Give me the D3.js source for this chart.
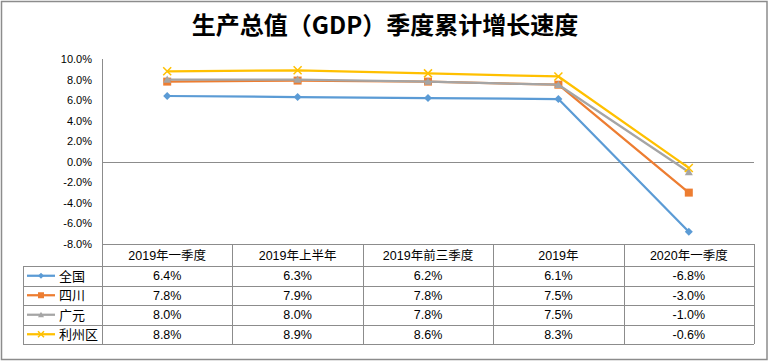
<!DOCTYPE html>
<html>
<head>
<meta charset="utf-8">
<script src="https://cdn.jsdelivr.net/npm/d3@7"></script>
<style>
  body { margin: 0; background: #fff; }
  text { font-family: "Liberation Sans", "Noto Sans CJK SC", sans-serif; fill: #000; }
</style>
</head>
<body>
<div class="chart"></div>
<script>
// categories and series (percent)
const categories = ["2019年一季度", "2019年上半年", "2019年前三季度", "2019年", "2020年一季度"];
const seriesNames = ["全国", "四川", "广元", "利州区"];
const quanguo = [6.4, 6.3, 6.2, 6.1, -6.8];
const sichuan = [7.8, 7.9, 7.8, 7.5, -3.0];
const guangyuan = [8.0, 8.0, 7.8, 7.5, -1.0];
const lizhou = [8.8, 8.9, 8.6, 8.3, -0.6];
const yTicks = [10, 8, 6, 4, 2, 0, -2, -4, -6, -8];

const colors = ["#5B9BD5", "#ED7D31", "#A5A5A5", "#FFC000"];
const markers = ["diamond", "square", "triangle", "x"];
const series = [quanguo, sichuan, guangyuan, lizhou].map((v, i) => ({
  name: seriesNames[i], values: v, color: colors[i], marker: markers[i]
}));

// plain hyphen minus like the original
const pct = d3.formatLocale({decimal: ".", thousands: ",", grouping: [3], currency: ["", ""], minus: "-"})
  .format(".1f");
const fmt = d => pct(d) + "%";

const W = 769, H = 361;
const plot = {left: 102, right: 754, top: 59, bottom: 244};
const headerH = 22, rowH = 19.5, legendLeft = 23;
const gridColor = "#8c8c8c";

const svg = d3.select(".chart").append("svg")
  .attr("width", W).attr("height", H);

// outer border
svg.append("rect")
  .attr("x", 1.5).attr("y", 1.5).attr("width", W - 3.5).attr("height", H - 3)
  .attr("fill", "#fff").attr("stroke", gridColor).attr("stroke-width", 1.5);

// title
svg.append("text")
  .attr("x", 385).attr("y", 34)
  .attr("text-anchor", "middle")
  .style("font-family", "'Noto Sans CJK SC', sans-serif")
  .style("font-size", "24px").style("font-weight", "bold")
  .text("生产总值（GDP）季度累计增长速度");

const x = d3.scaleBand().domain(categories).range([plot.left, plot.right]);
const y = d3.scaleLinear().domain([-8, 10]).range([plot.bottom, plot.top]);

// y axis labels
svg.append("g").selectAll("text")
  .data(yTicks).enter().append("text")
  .attr("x", 92).attr("y", d => y(d) + 4)
  .attr("text-anchor", "end")
  .style("font-size", "11px")
  .text(d => (d < 0 ? "-" : "") + pct(Math.abs(d)) + "%");

// y axis line and zero line
svg.append("line")
  .attr("x1", plot.left + 0.5).attr("x2", plot.left + 0.5)
  .attr("y1", plot.top).attr("y2", plot.bottom)
  .attr("stroke", gridColor);
svg.append("line")
  .attr("x1", plot.left).attr("x2", plot.right)
  .attr("y1", Math.round(y(0)) + 0.5).attr("y2", Math.round(y(0)) + 0.5)
  .attr("stroke", gridColor);

// marker drawing
function drawMarker(g, type, color, s) {
  if (type === "diamond") {
    g.append("path").attr("d", `M0,${-s}L${s},0L0,${s}L${-s},0Z`).attr("fill", color);
  } else if (type === "square") {
    g.append("rect").attr("x", -s).attr("y", -s).attr("width", 2 * s).attr("height", 2 * s)
      .attr("fill", color);
  } else if (type === "triangle") {
    g.append("path").attr("d", `M0,${-s}L${s},${s * 0.8}L${-s},${s * 0.8}Z`).attr("fill", color);
  } else {
    g.append("path").attr("d", `M${-s},${-s}L${s},${s}M${s},${-s}L${-s},${s}`)
      .attr("stroke", color).attr("stroke-width", 1.5);
  }
}

const line = d3.line()
  .x((d, i) => x(categories[i]) + x.bandwidth() / 2)
  .y(d => y(d));

series.forEach(s => {
  const g = svg.append("g");
  g.append("path")
    .attr("d", line(s.values))
    .attr("fill", "none")
    .attr("stroke", s.color)
    .attr("stroke-width", 2.25)
    .attr("stroke-linejoin", "round");
  s.values.forEach((v, i) => {
    const m = g.append("g")
      .attr("transform", `translate(${x(categories[i]) + x.bandwidth() / 2},${y(v)})`);
    drawMarker(m, s.marker, s.color, 4);
  });
});

// data table
const tbl = svg.append("g");
const tableTop = plot.bottom;
const tableBottom = tableTop + headerH + rowH * series.length;
const rowY = i => tableTop + headerH + rowH * i;

// horizontal lines
tbl.append("line")
  .attr("x1", plot.left).attr("x2", plot.right)
  .attr("y1", tableTop + 0.5).attr("y2", tableTop + 0.5)
  .attr("stroke", gridColor);
d3.range(series.length + 1).forEach(i => {
  tbl.append("line")
    .attr("x1", legendLeft).attr("x2", plot.right)
    .attr("y1", Math.round(rowY(i)) + 0.5).attr("y2", Math.round(rowY(i)) + 0.5)
    .attr("stroke", gridColor);
});
// vertical lines
tbl.append("line")
  .attr("x1", legendLeft + 0.5).attr("x2", legendLeft + 0.5)
  .attr("y1", rowY(0)).attr("y2", tableBottom)
  .attr("stroke", gridColor);
categories.forEach(c => {
  tbl.append("line")
    .attr("x1", Math.round(x(c)) + 0.5).attr("x2", Math.round(x(c)) + 0.5)
    .attr("y1", tableTop).attr("y2", tableBottom)
    .attr("stroke", gridColor);
});
tbl.append("line")
  .attr("x1", plot.right + 0.5).attr("x2", plot.right + 0.5)
  .attr("y1", tableTop).attr("y2", tableBottom)
  .attr("stroke", gridColor);

// header
tbl.selectAll(".head").data(categories).enter().append("text")
  .attr("x", d => x(d) + x.bandwidth() / 2)
  .attr("y", tableTop + 16)
  .attr("text-anchor", "middle")
  .style("font-size", "12.5px")
  .text(d => d);

// rows
series.forEach((s, r) => {
  const cy = rowY(r) + rowH / 2;
  const lg = tbl.append("g");
  lg.append("line")
    .attr("x1", 27).attr("x2", 55).attr("y1", cy).attr("y2", cy)
    .attr("stroke", s.color).attr("stroke-width", 2.25);
  const m = lg.append("g").attr("transform", `translate(41,${cy})`);
  drawMarker(m, s.marker, s.color, 3);
  lg.append("text")
    .attr("x", 59).attr("y", cy + 5)
    .style("font-size", "13px")
    .text(s.name);
  tbl.selectAll(null).data(s.values).enter().append("text")
    .attr("x", (d, i) => x(categories[i]) + x.bandwidth() / 2)
    .attr("y", cy + 4.5)
    .attr("text-anchor", "middle")
    .style("font-size", "12.5px")
    .text(fmt);
});
</script>
</body>
</html>
